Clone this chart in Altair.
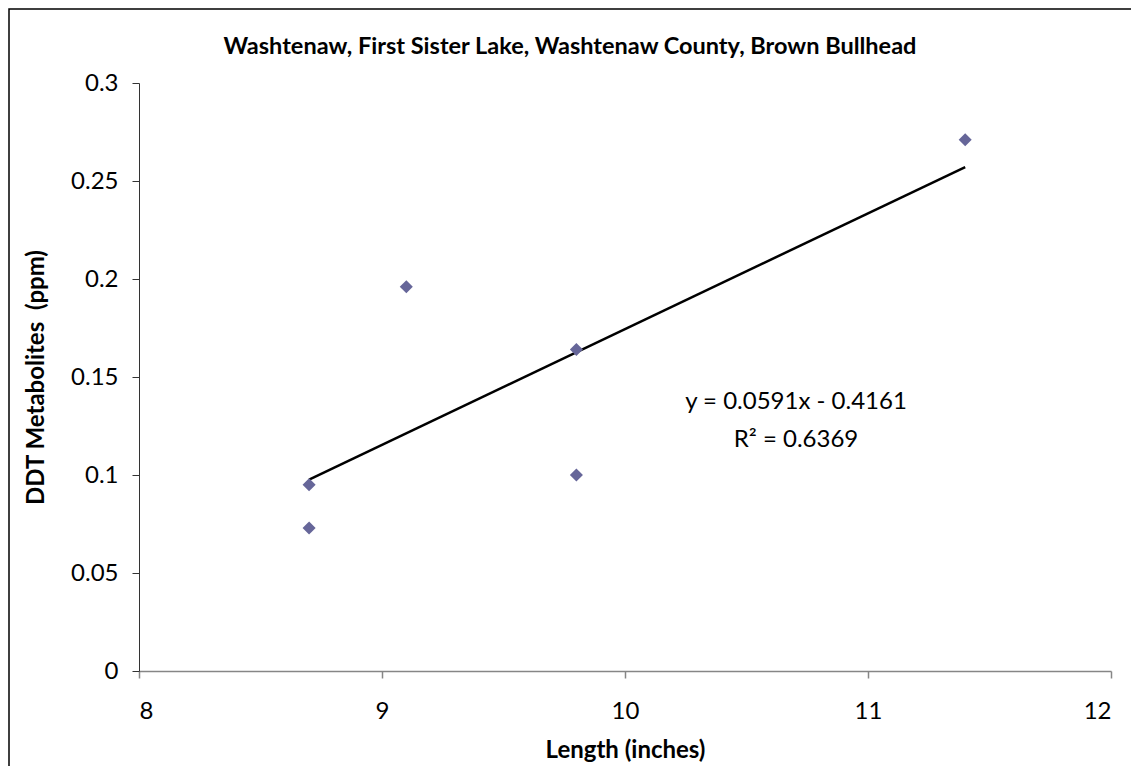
import altair as alt
import pandas as pd

length_in = [8.7, 8.7, 9.1, 9.8, 9.8, 11.4]
ddt_ppm = [0.095, 0.073, 0.196, 0.164, 0.100, 0.271]
x_ticks = [8, 9, 10, 11, 12]
y_ticks = [0, 0.05, 0.1, 0.15, 0.2, 0.25, 0.3]
title_text = "Washtenaw, First Sister Lake, Washtenaw County, Brown Bullhead"
eq_text = "y = 0.0591x - 0.4161"
r2_text = "R² = 0.6369"
x_title = "Length (inches)"
y_title = "DDT Metabolites \u00a0(ppm)"

FONT = "Lato"
df = pd.DataFrame({"x": length_in, "y": ddt_ppm})

W, H = 972, 588
base = alt.Chart(df)

xenc = alt.X("x:Q", scale=alt.Scale(domain=[8, 12], nice=False, zero=False),
             axis=alt.Axis(values=x_ticks, format="d", title=x_title, grid=False,
                           domainColor="#868686", domainWidth=1.5, tickColor="#868686",
                           tickWidth=1.5, tickSize=7, labelPadding=21,
                           labelFont=FONT, labelFontSize=24, labelColor="#000",
                           titleFont=FONT, titleFontSize=24, titleFontWeight="bold",
                           titleColor="#000", titlePadding=15))
yenc = alt.Y("y:Q", scale=alt.Scale(domain=[0, 0.3], nice=False),
             axis=alt.Axis(values=y_ticks, format="~g", title=y_title,
                           grid=False, domainColor="#333333", domainWidth=1,
                           tickColor="#333333", tickWidth=1, tickSize=7, labelPadding=14,
                           labelFont=FONT, labelFontSize=24, labelColor="#000",
                           titleFont=FONT, titleFontSize=24, titleFontWeight="bold",
                           titleColor="#000", titlePadding=22))

points = base.mark_point(shape="diamond", filled=True, size=170, color="#666699",
                         opacity=1).encode(x=xenc, y=yenc)

trend = base.transform_regression("x", "y", method="linear").mark_line(
    color="#000", strokeWidth=2.5).encode(x="x:Q", y="y:Q")

title = alt.Chart(pd.DataFrame({"t": [title_text]})).mark_text(
    font=FONT, fontSize=23.5, fontWeight="bold", color="#000", align="center",
    baseline="middle").encode(text="t:N", x=alt.value(431), y=alt.value(-36))

eq = alt.Chart(pd.DataFrame({"t": [eq_text, r2_text], "yy": [319, 357]})).mark_text(
    font=FONT, fontSize=24, color="#000", align="center", baseline="middle"
).encode(text="t:N", x=alt.value(657), y=alt.Y("yy:Q", scale=None))

border = alt.Chart(pd.DataFrame({"a": [0]})).mark_rect(
    fill=None, stroke="#000", strokeWidth=1.5).encode(
    x=alt.value(-130), x2=alt.value(1200), y=alt.value(-74), y2=alt.value(900))

chart = alt.layer(border, trend, points, eq, title).properties(
    width=W, height=H,
    autosize=alt.AutoSizeParams(type="none"),
    padding={"left": 131, "top": 75, "right": 20, "bottom": 95},
).configure_view(stroke=None)

chart.save("out.html", embed_options={"renderer": "svg", "actions": False})
